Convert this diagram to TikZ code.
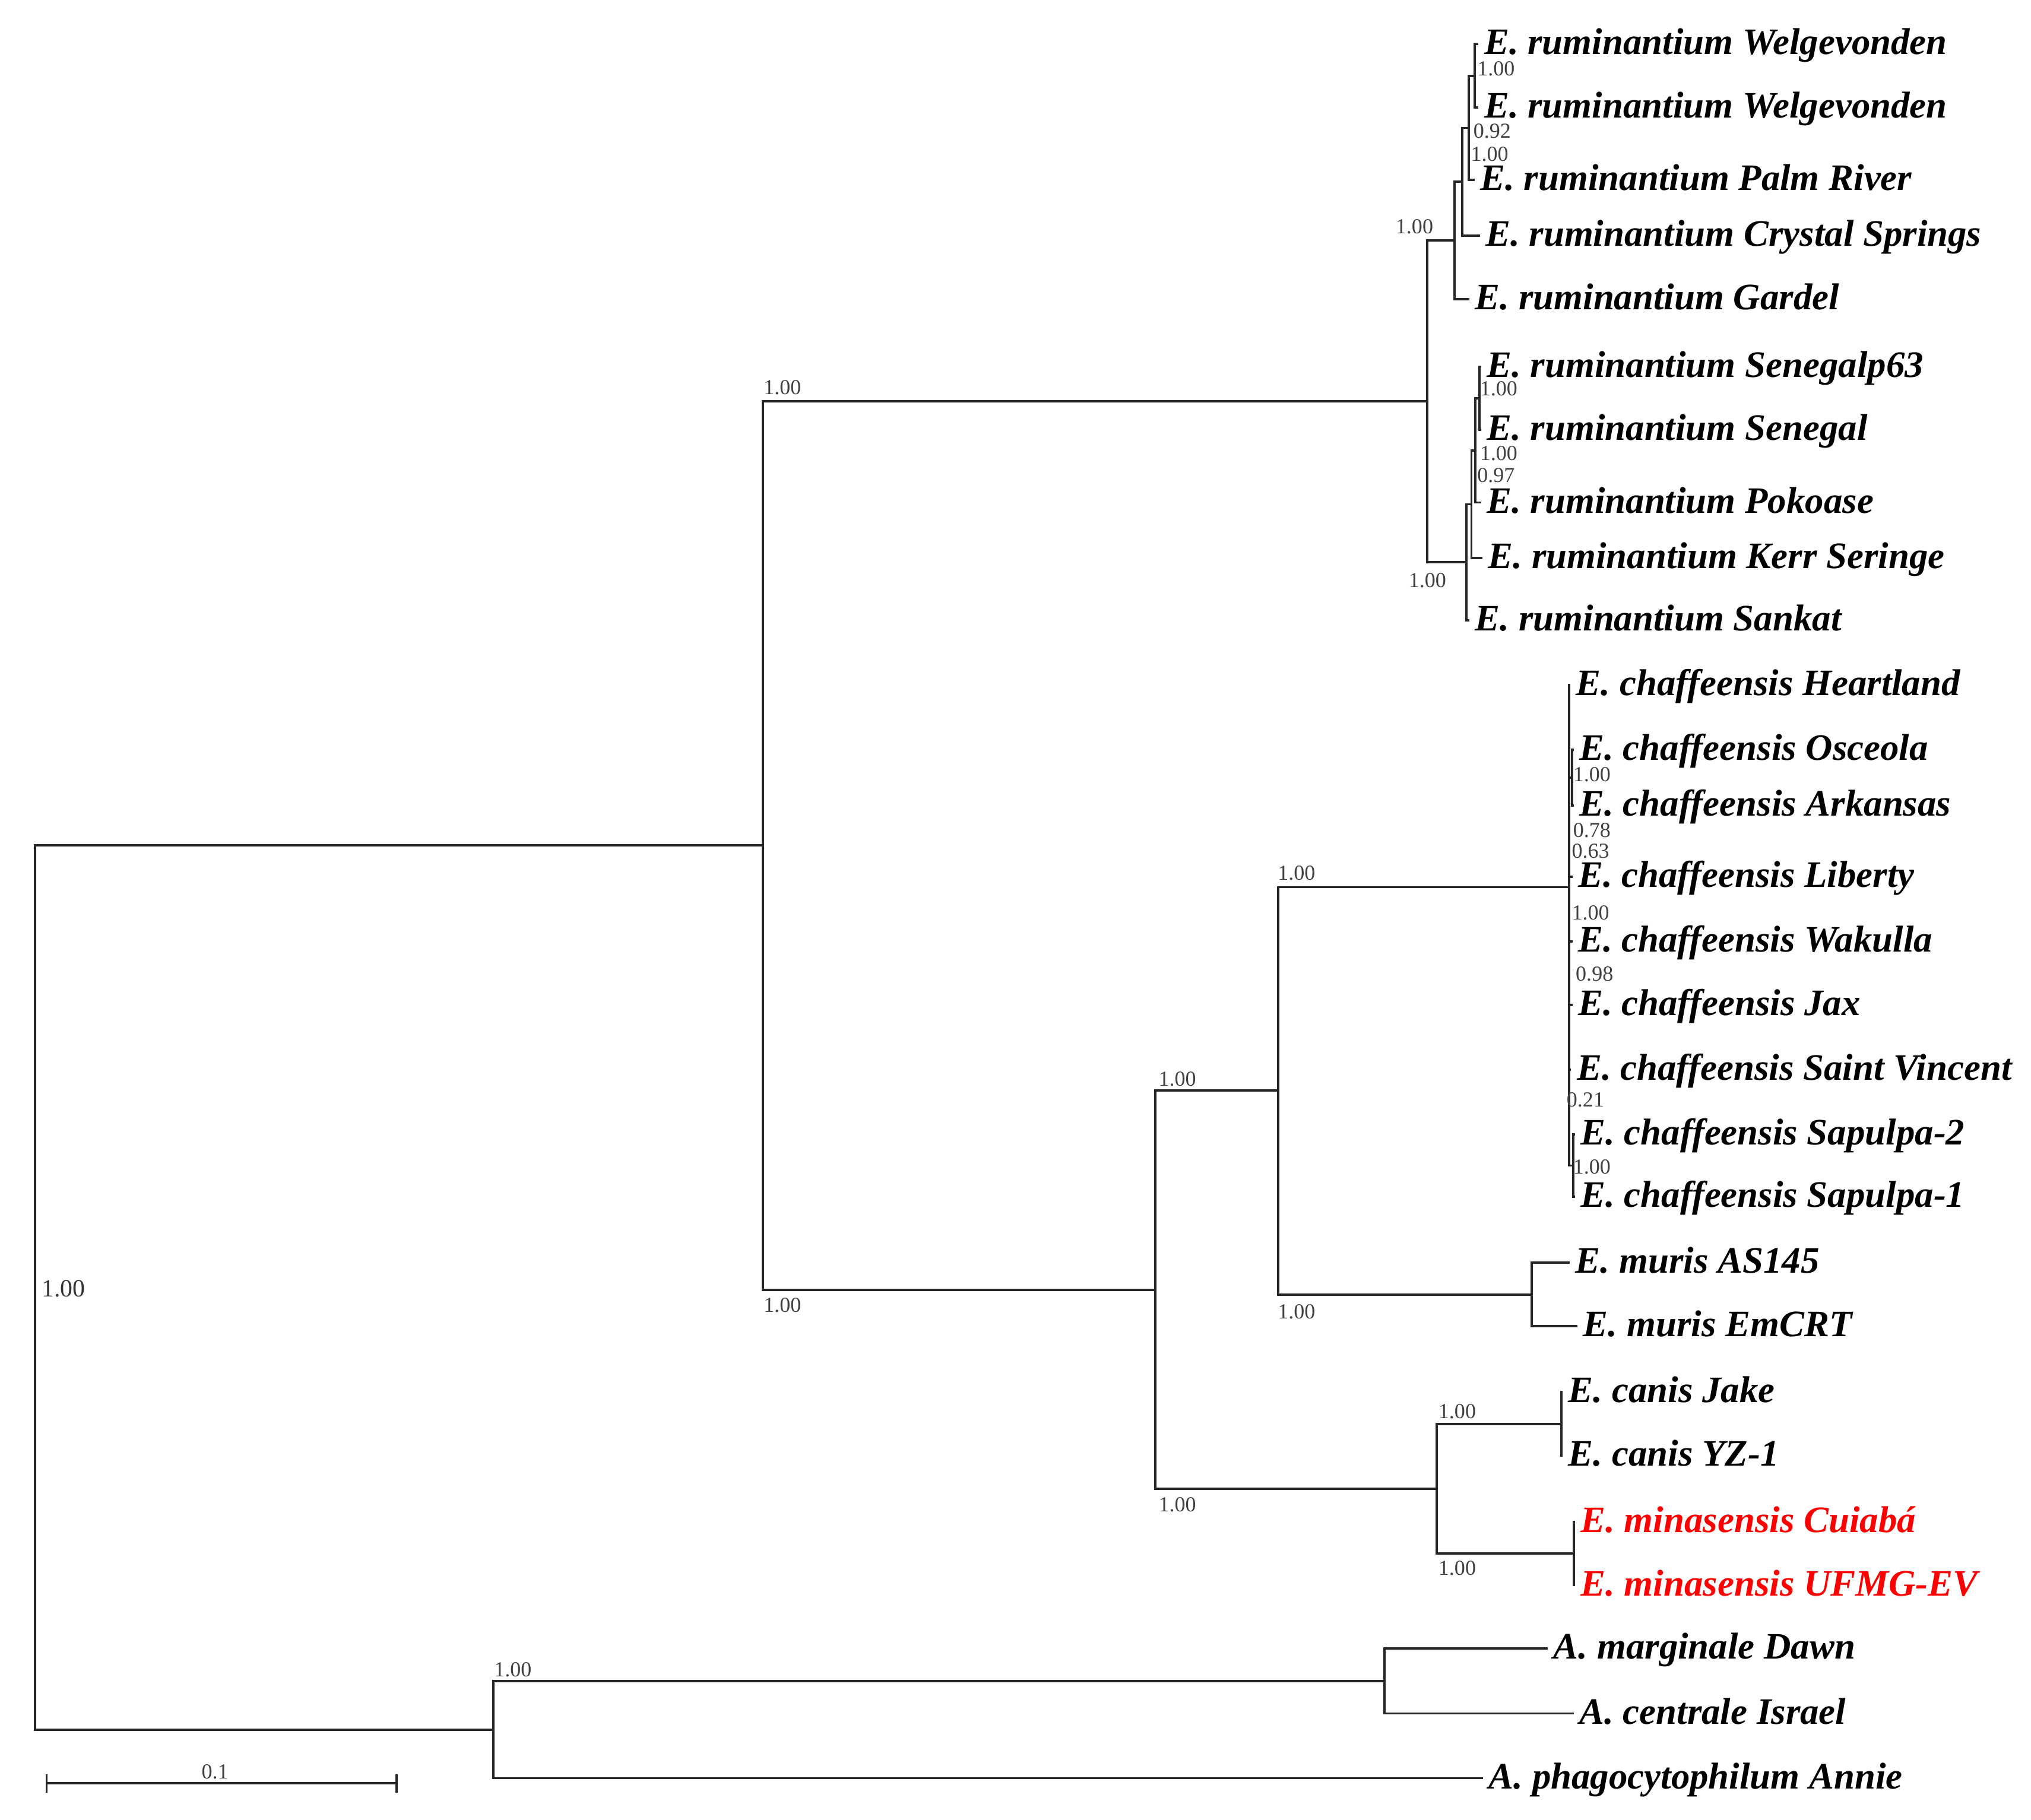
\documentclass[tikz,border=0pt]{standalone}
\usepackage{fontspec}
\setmainfont{Liberation Serif}
\usetikzlibrary{positioning}
\begin{document}
\begin{tikzpicture}[x=0.1mm, y=-0.1mm, line width=0.5pt,
  br/.style={draw=black!85},
  taxon/.style={anchor=mid west, inner sep=1pt, font=\fontsize{8.2}{10}\selectfont\bfseries\itshape},
  newsp/.style={taxon, text=red},
  supp/.style={inner sep=0pt, text=black!75, font=\fontsize{4.7}{5}\selectfont},
  rootsupp/.style={supp, text=black!80, font=\fontsize{5.45}{6}\selectfont}]
\useasboundingbox (0,0) rectangle (1568,1405);
  \coordinate (r) at (27,994);
  \coordinate (e) at (589,652.5);
  \coordinate (rm) at (1102,310);
  \coordinate (ru) at (1123,185.7);
  \coordinate (wpc) at (1129,140.4);
  \coordinate (wp) at (1134,98.75);
  \coordinate (ww) at (1138.5,58.5);
  \coordinate (rl) at (1132,434.2);
  \coordinate (spk) at (1136,389.4);
  \coordinate (spo) at (1139,347.75);
  \coordinate (sen) at (1142,307.5);
  \coordinate (ec) at (892,996);
  \coordinate (cm) at (987,842);
  \coordinate (ch) at (1211.5,685);
  \coordinate (oa) at (1213.5,600.5);
  \coordinate (sap) at (1214.5,900);
  \coordinate (mu) at (1182.5,999.5);
  \coordinate (cc) at (1109,1149.5);
  \coordinate (ca) at (1205.5,1099.5);
  \coordinate (mi) at (1215,1199.5);
  \coordinate (an) at (381,1335.5);
  \coordinate (am) at (1069,1298);
  \coordinate (tW1) at (1141.5,34);
  \coordinate (tW2) at (1141.5,83);
  \coordinate (tPR) at (1138.5,139);
  \coordinate (tCS) at (1142.5,182);
  \coordinate (tGa) at (1134.5,231);
  \coordinate (tS63) at (1143.5,283);
  \coordinate (tSe) at (1143.5,332);
  \coordinate (tPo) at (1143.5,388);
  \coordinate (tKS) at (1144.5,431);
  \coordinate (tSa) at (1134.5,479);
  \coordinate (tHe) at (1212.5,529);
  \coordinate (tOs) at (1215,579);
  \coordinate (tAr) at (1215,622);
  \coordinate (tLi) at (1214,677);
  \coordinate (tWa) at (1214,727);
  \coordinate (tJa) at (1214,776);
  \coordinate (tSV) at (1213,826);
  \coordinate (tS2) at (1216,876);
  \coordinate (tS1) at (1216,924);
  \coordinate (tAS) at (1212,975);
  \coordinate (tEm) at (1218,1024);
  \coordinate (tJk) at (1206.5,1075);
  \coordinate (tYZ) at (1206.5,1124);
  \coordinate (tCu) at (1216,1175);
  \coordinate (tUF) at (1216,1224);
  \coordinate (tMa) at (1195,1273);
  \coordinate (tCe) at (1215,1323);
  \coordinate (tPh) at (1145,1373);

  \draw[br] (r) |- (e) (r) |- (an);
  \draw[br] (e) |- (rm) (e) |- (ec);
  \draw[br] (rm) |- (ru) (rm) |- (rl);
  \draw[br] (ru) |- (wpc) (ru) |- (tGa);
  \draw[br] (wpc) |- (wp) (wpc) |- (tCS);
  \draw[br] (wp) |- (ww) (wp) |- (tPR);
  \draw[br] (ww) |- (tW1) (ww) |- (tW2);
  \draw[br] (rl) |- (spk) (rl) |- (tSa);
  \draw[br] (spk) |- (spo) (spk) |- (tKS);
  \draw[br] (spo) |- (sen) (spo) |- (tPo);
  \draw[br] (sen) |- (tS63) (sen) |- (tSe);
  \draw[br] (ec) |- (cm) (ec) |- (cc);
  \draw[br] (cm) |- (ch) (cm) |- (mu);
  \draw[br] (ch) |- (tHe) (ch) |- (oa) (ch) |- (tLi) (ch) |- (tWa) (ch) |- (tJa) (ch) |- (tSV) (ch) |- (sap);
  \draw[br] (oa) |- (tOs) (oa) |- (tAr);
  \draw[br] (sap) |- (tS2) (sap) |- (tS1);
  \draw[br] (mu) |- (tAS) (mu) |- (tEm);
  \draw[br] (cc) |- (ca) (cc) |- (mi);
  \draw[br] (ca) |- (tJk) (ca) |- (tYZ);
  \draw[br] (mi) |- (tCu) (mi) |- (tUF);
  \draw[br] (an) |- (am) (an) |- (tPh);
  \draw[br] (am) |- (tMa) (am) |- (tCe);

  \node[taxon] (lW1) at (tW1) {E. ruminantium Welgevonden};
  \node[taxon] (lW2) at (tW2) {E. ruminantium Welgevonden};
  \node[taxon] (lPR) at (tPR) {E. ruminantium Palm River};
  \node[taxon] (lCS) at (tCS) {E. ruminantium Crystal Springs};
  \node[taxon] (lGa) at (tGa) {E. ruminantium Gardel};
  \node[taxon] (lS63) at (tS63) {E. ruminantium Senegalp63};
  \node[taxon] (lSe) at (tSe) {E. ruminantium Senegal};
  \node[taxon] (lPo) at (tPo) {E. ruminantium Pokoase};
  \node[taxon] (lKS) at (tKS) {E. ruminantium Kerr Seringe};
  \node[taxon] (lSa) at (tSa) {E. ruminantium Sankat};
  \node[taxon] (lHe) at (tHe) {E. chaffeensis Heartland};
  \node[taxon] (lOs) at (tOs) {E. chaffeensis Osceola};
  \node[taxon] (lAr) at (tAr) {E. chaffeensis Arkansas};
  \node[taxon] (lLi) at (tLi) {E. chaffeensis Liberty};
  \node[taxon] (lWa) at (tWa) {E. chaffeensis Wakulla};
  \node[taxon] (lJa) at (tJa) {E. chaffeensis Jax};
  \node[taxon] (lSV) at (tSV) {E. chaffeensis Saint Vincent};
  \node[taxon] (lS2) at (tS2) {E. chaffeensis Sapulpa-2};
  \node[taxon] (lS1) at (tS1) {E. chaffeensis Sapulpa-1};
  \node[taxon] (lAS) at (tAS) {E. muris AS145};
  \node[taxon] (lEm) at (tEm) {E. muris EmCRT};
  \node[taxon] (lJk) at (tJk) {E. canis Jake};
  \node[taxon] (lYZ) at (tYZ) {E. canis YZ-1};
  \node[newsp] (lCu) at (tCu) {E. minasensis Cuiabá};
  \node[newsp] (lUF) at (tUF) {E. minasensis UFMG-EV};
  \node[taxon] (lMa) at (tMa) {A. marginale Dawn};
  \node[taxon] (lCe) at (tCe) {A. centrale Israel};
  \node[taxon] (lPh) at (tPh) {A. phagocytophilum Annie};

  \node[rootsupp] (pr) at (49,995) {1.00};
  \node[supp] (pe1) at (604,299) {1.00};
  \node[supp] (pe2) at (604,1008) {1.00};
  \node[supp] (prm1) at (1092,175) {1.00};
  \node[supp] (prm2) at (1102,448) {1.00};
  \node[supp] (pww) at (1155,53) {1.00};
  \node[supp] (pwp) at (1152,101) {0.92};
  \node[supp] (pwpc) at (1150,119) {1.00};
  \node[supp] (psen) at (1157,300) {1.00};
  \node[supp] (pspo) at (1157,350) {1.00};
  \node[supp] (pspk) at (1155,367) {0.97};
  \node[supp] (poa) at (1229,598) {1.00};
  \node[supp] (pc1) at (1229,641) {0.78};
  \node[supp] (pc2) at (1228,657) {0.63};
  \node[supp] (pc3) at (1228,705) {1.00};
  \node[supp] (pc4) at (1231,752) {0.98};
  \node[supp] (pc5) at (1224,849) {0.21};
  \node[supp] (psap) at (1229,901) {1.00};
  \node[supp] (pcm1) at (1001,674) {1.00};
  \node[supp] (pcm2) at (1001,1013) {1.00};
  \node[supp] (pec1) at (909,833) {1.00};
  \node[supp] (pec2) at (909,1162) {1.00};
  \node[supp] (pcc1) at (1125,1090) {1.00};
  \node[supp] (pcc2) at (1125,1211) {1.00};
  \node[supp] (pan) at (396,1289) {1.00};

  \coordinate (s0) at (36,1377);
  \coordinate (s1) at (306,1377);
  \draw[br] (s0) -- (s1);
  \draw[br] (36,1370) -- (36,1384) (306,1370) -- (306,1384);
  \node[supp] (scl) at (166,1368) {0.1};
\end{tikzpicture}
\end{document}
